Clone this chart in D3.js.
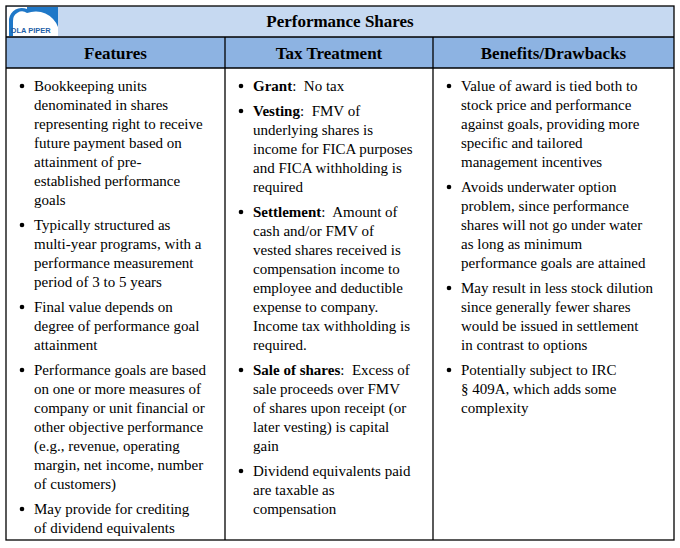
<!DOCTYPE html>
<html><head><meta charset="utf-8">
<script src="https://cdn.jsdelivr.net/npm/d3@7"></script>
<style>body{margin:0;background:#fff}</style>
</head><body><div id="chart"></div>
<script>
var title = "Performance Shares";
var columns = ["Features", "Tax Treatment", "Benefits/Drawbacks"];
// each item: [bold lead, lines...]
var features = [
  ["", "Bookkeeping units", "denominated in shares", "representing right to receive", "future payment based on", "attainment of pre-", "established performance", "goals"],
  ["", "Typically structured as", "multi-year programs, with a", "performance measurement", "period of 3 to 5 years"],
  ["", "Final value depends on", "degree of performance goal", "attainment"],
  ["", "Performance goals are based", "on one or more measures of", "company or unit financial or", "other objective performance", "(e.g., revenue, operating", "margin, net income, number", "of customers)"],
  ["", "May provide for crediting", "of dividend equivalents"]
];
var taxTreatment = [
  ["Grant", ":  No tax"],
  ["Vesting", ":  FMV of", "underlying shares is", "income for FICA purposes", "and FICA withholding is", "required"],
  ["Settlement", ":  Amount of", "cash and/or FMV of", "vested shares received is", "compensation income to", "employee and deductible", "expense to company.", "Income tax withholding is", "required."],
  ["Sale of shares", ":  Excess of", "sale proceeds over FMV", "of shares upon receipt (or", "later vesting) is capital", "gain"],
  ["", "Dividend equivalents paid", "are taxable as", "compensation"]
];
var benefits = [
  ["", "Value of award is tied both to", "stock price and performance", "against goals, providing more", "specific and tailored", "management incentives"],
  ["", "Avoids underwater option", "problem, since performance", "shares will not go under water", "as long as minimum", "performance goals are attained"],
  ["", "May result in less stock dilution", "since generally fewer shares", "would be issued in settlement", "in contrast to options"],
  ["", "Potentially subject to IRC", "§ 409A, which adds some", "complexity"]
];
var bodies = [features, taxTreatment, benefits];

var W = 680, H = 548;
var svg = d3.select("#chart").append("svg").attr("width", W).attr("height", H)
  .style("font-family", "'Liberation Serif','Times New Roman',serif");

var x = d3.scaleOrdinal().domain([0,1,2,3]).range([6, 225, 433, 674]);
var yTop = 6, titleBottom = 37, headBottom = 68, yBottom = 540;

svg.append("rect").attr("x", 6).attr("y", yTop).attr("width", 668).attr("height", titleBottom - yTop).attr("fill", "#c6d9f1");
svg.append("rect").attr("x", 6).attr("y", titleBottom).attr("width", 668).attr("height", headBottom - titleBottom).attr("fill", "#8db3e2");

// logo
var logo = svg.append("g").attr("transform", "translate(7,7)");
logo.append("rect").attr("width", 51).attr("height", 29).attr("fill", "#fff");
logo.append("path").attr("d", "M2,29 L2,12 A13,13 0 0 1 20,2 L20,6 A9,9 0 0 0 6,14 L6,29 Z").attr("fill", "#1f78c8");
logo.append("rect").attr("x", 20).attr("width", 31).attr("height", 29).attr("fill", "#fff");
logo.append("path").attr("d", "M20,0 L51,0 L51,20 A24,24 0 0 0 20,6 Z").attr("fill", "#1f78c8");
logo.append("text").attr("x", 4).attr("y", 26).attr("font-family", "'Liberation Sans',Arial,sans-serif")
  .attr("font-size", 7.5).attr("font-weight", "bold").attr("fill", "#1f5fa8").text("DLA PIPER");

svg.append("text").attr("x", 340).attr("y", 27).attr("text-anchor", "middle")
  .attr("font-size", 17).attr("font-weight", "bold").text(title);

columns.forEach(function(c, i){
  svg.append("text").attr("x", (x(i) + x(i+1)) / 2).attr("y", 59).attr("text-anchor", "middle")
    .attr("font-size", 17).attr("font-weight", "bold").text(c);
});

// grid lines
var g = svg.append("g").attr("stroke", "#000").attr("stroke-width", 1.3);
g.append("rect").attr("x", 6).attr("y", yTop).attr("width", 668).attr("height", yBottom - yTop).attr("fill", "none");
[titleBottom, headBottom].forEach(function(y){ g.append("line").attr("x1", 6).attr("x2", 674).attr("y1", y).attr("y2", y); });
[1,2].forEach(function(i){ g.append("line").attr("x1", x(i)).attr("x2", x(i)).attr("y1", titleBottom).attr("y2", yBottom); });

var lineH = 19, itemGap = 6;
bodies.forEach(function(items, ci){
  var y = 91;
  var bx = x(ci) + 16, tx = x(ci) + 28;
  items.forEach(function(it){
    svg.append("circle").attr("cx", bx).attr("cy", y - 5).attr("r", 2.3).attr("fill", "#000");
    it.slice(1).forEach(function(line, li){
      var t = svg.append("text").attr("x", tx).attr("y", y).attr("font-size", 15);
      if (li === 0 && it[0]) t.append("tspan").attr("font-weight", "bold").text(it[0]);
      t.append("tspan").style("white-space", "pre").text(line);
      y += lineH;
    });
    y += itemGap;
  });
});
</script></body></html>
